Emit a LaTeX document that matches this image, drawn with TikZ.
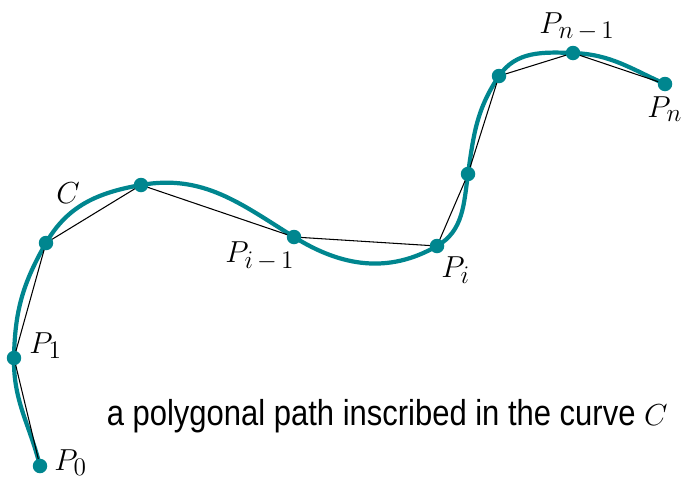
\documentclass[tikz,border=0pt]{standalone}
\usepackage{fontspec}
\usepackage{xcolor}
\usepackage{tikz}
\usetikzlibrary{positioning}
\newfontfamily\capfont[FakeStretch=0.86]{Liberation Sans}
\definecolor{curveteal}{RGB}{0,134,143}
\tikzset{
ptdot/.style={circle,fill=curveteal,inner sep=0pt,minimum size=0.29cm},
curveline/.style={curveteal,line width=2.4pt},
chord/.style={black,line width=0.6pt},
ptlabel/.style={anchor=base west,inner sep=0pt,font=\fontsize{19}{22}\selectfont},
caplabel/.style={anchor=base east,inner sep=0pt,font=\capfont\fontsize{20.5}{24}\selectfont}
}
\begin{document}
\begin{tikzpicture}[x=1cm,y=1cm]
\useasboundingbox (0,0) rectangle (13.62,9.6);
% points on the curve
\coordinate (p0) at (0.80,0.28);
\coordinate (p1) at (0.28,2.44);
\coordinate (p2) at (0.92,4.74);
\coordinate (p3) at (2.82,5.90);
\coordinate (pim) at (5.88,4.86);
\coordinate (pi) at (8.74,4.68);
\coordinate (p6) at (9.36,6.12);
\coordinate (p7) at (9.98,8.08);
\coordinate (pnm) at (11.46,8.54);
\coordinate (pn) at (13.30,7.92);
% the curve C
\draw[curveline] (p0) to[out=104,in=-91] (p1)
  to[out=89,in=240] (p2)
  to[out=60,in=190] (p3)
  to[out=10,in=148] (pim)
  to[out=-32,in=210] (pi)
  to[out=30,in=262] (p6)
  to[out=82,in=236] (p7)
  to[out=56,in=178] (pnm)
  to[out=-2,in=156] (pn);
% inscribed polygon
\draw[chord] (p0)--(p1)--(p2)--(p3)--(pim)--(pi)--(p6)--(p7)--(pnm)--(pn);
% dots
\node[ptdot] (d0) at (p0) {};
\node[ptdot] (d1) at (p1) {};
\node[ptdot] (d2) at (p2) {};
\node[ptdot] (d3) at (p3) {};
\node[ptdot] (dim) at (pim) {};
\node[ptdot] (di) at (pi) {};
\node[ptdot] (d6) at (p6) {};
\node[ptdot] (d7) at (p7) {};
\node[ptdot] (dnm) at (pnm) {};
\node[ptdot] (dn) at (pn) {};
% labels
\node[ptlabel] (l0) at (1.08,0.20) {$P_0$};
\node[ptlabel] (l1) at (0.58,2.54) {$P_1$};
\node[ptlabel] (lc) at (1.12,5.54) {$C$};
\node[ptlabel] (lim) at (4.50,4.36) {$P_{i\,-\,1}$};
\node[ptlabel] (li) at (8.82,4.06) {$P_i$};
\node[ptlabel] (lnm) at (10.78,8.94) {$P_{n\,-\,1}$};
\node[ptlabel] (ln) at (12.94,7.26) {$P_n$};
\node[caplabel] (cap) at (13.36,1.10) {a polygonal path inscribed in the curve \fontsize{19}{22}\selectfont$C$};
\end{tikzpicture}
\end{document}
